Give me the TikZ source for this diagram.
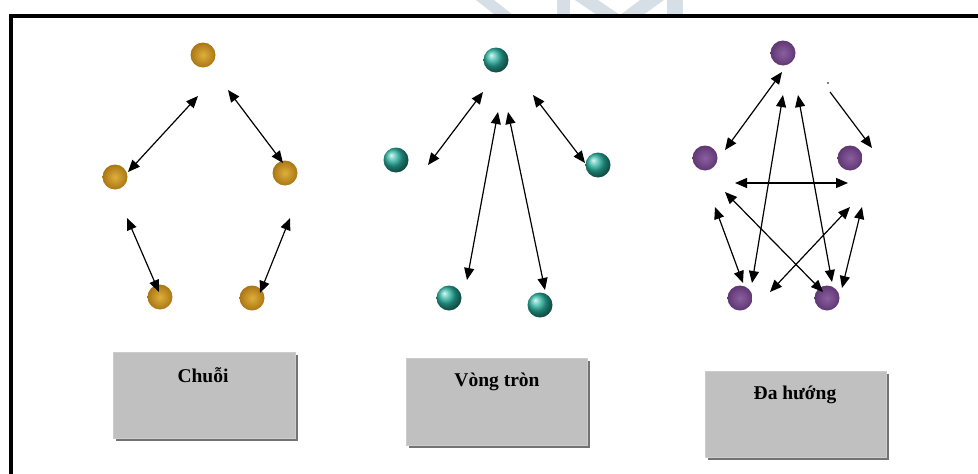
\documentclass[tikz,border=0pt]{standalone}
\usepackage{fontspec}
\setmainfont{Liberation Serif}
\usetikzlibrary{arrows.meta,shadows}
\definecolor{goldin}{RGB}{222,175,60}
\definecolor{goldout}{RGB}{170,118,20}
\definecolor{tealball}{RGB}{40,178,160}
\definecolor{purpin}{RGB}{140,95,160}
\definecolor{purpout}{RGB}{95,55,115}
\definecolor{boxgray}{RGB}{192,192,192}
\definecolor{wmark}{RGB}{214,222,230}
\begin{document}
\begin{tikzpicture}[x=1pt,y=-1pt,
  conn/.style={{Triangle[length=12pt,width=10pt]}-{Triangle[length=12pt,width=10pt]}, line width=1.2pt},
  oneway/.style={-{Triangle[length=12pt,width=10pt]}, line width=1.2pt},
  ball/.style={circle, minimum size=25pt, inner sep=0pt},
  goldball/.style={ball, shade, inner color=goldin, outer color=goldout},
  tealb/.style={ball, shading=ball, ball color=tealball},
  purpball/.style={ball, shade, inner color=purpin, outer color=purpout},
  graybox/.style={rectangle, fill=boxgray, draw=black!20, line width=0.6pt, inner sep=0pt,
    drop shadow={shadow xshift=2.5pt, shadow yshift=-2.5pt, fill=black!55, opacity=1}},
  lbl/.style={font=\fontsize{19.5}{23}\selectfont\bfseries, inner sep=0pt}
]
\useasboundingbox (0,0) rectangle (978,474);
\clip (0,0) rectangle (978,474);

% faint watermark
\fill[wmark] (476,0) -- (494,0) -- (513,15) -- (495,15) -- cycle;
\fill[wmark] (557,0) -- (570,0) -- (570,15) -- (557,15) -- cycle;
\fill[wmark] (575,0) -- (598,0) -- (620,15) -- (597,15) -- cycle;
\fill[wmark] (640,0) -- (664,0) -- (643,15) -- (620,15) -- cycle;
\fill[wmark] (667,0) -- (683,0) -- (683,15) -- (667,15) -- cycle;

% frame
\draw[line width=3.2pt] (11,480) -- (11,16) -- (990,16);

% ---------- Chuoi ----------
\node[goldball] (g1) at (203,55) {};
\node[goldball] (g2) at (115,177) {};
\node[goldball] (g3) at (285,173) {};
\node[goldball] (g4) at (160,297) {};
\node[goldball] (g5) at (252,298) {};
\coordinate (ga1) at (198,96);  \coordinate (gb1) at (128,172);
\coordinate (ga2) at (228,90);  \coordinate (gb2) at (283,163);
\coordinate (ga3) at (127,218); \coordinate (gb3) at (159,292);
\coordinate (ga4) at (290,218); \coordinate (gb4) at (260,293);
\draw[conn] (ga1) -- (gb1);
\draw[conn] (ga2) -- (gb2);
\draw[conn] (ga3) -- (gb3);
\draw[conn] (ga4) -- (gb4);

% ---------- Vong tron ----------
\node[tealb] (t1) at (496,60) {};
\node[tealb] (t2) at (396,160) {};
\node[tealb] (t3) at (598,165) {};
\node[tealb] (t4) at (449,298) {};
\node[tealb] (t5) at (540,305) {};
\coordinate (ta1) at (483,92);  \coordinate (tb1) at (428,165);
\coordinate (ta2) at (533,95);  \coordinate (tb2) at (585,163);
\coordinate (ta3) at (498,112); \coordinate (tb3) at (467,280);
\coordinate (ta4) at (508,112); \coordinate (tb4) at (545,290);
\draw[conn] (ta1) -- (tb1);
\draw[conn] (ta2) -- (tb2);
\draw[conn] (ta3) -- (tb3);
\draw[conn] (ta4) -- (tb4);

% ---------- Da huong ----------
\node[purpball] (p1) at (783,53) {};
\node[purpball] (p2) at (705,158) {};
\node[purpball] (p3) at (850,158) {};
\node[purpball] (p4) at (740,298) {};
\node[purpball] (p5) at (827,298) {};
\coordinate (pa1) at (782,72);  \coordinate (pb1) at (725,150);
\coordinate (pdot) at (828,83);
\coordinate (pa2) at (830,92);  \coordinate (pb2) at (872,148);
\coordinate (pa3) at (735,183); \coordinate (pb3) at (848,183);
\coordinate (pa4) at (783,95);  \coordinate (pb4) at (752,283);
\coordinate (pa5) at (798,95);  \coordinate (pb5) at (832,282);
\coordinate (pa6) at (715,207); \coordinate (pb6) at (743,283);
\coordinate (pa7) at (725,192); \coordinate (pb7) at (823,292);
\coordinate (pa8) at (850,207); \coordinate (pb8) at (770,292);
\coordinate (pa9) at (862,207); \coordinate (pb9) at (842,288);
\draw[conn] (pa1) -- (pb1);
\fill (pdot) circle (0.9pt);
\draw[oneway] (pa2) -- (pb2);
\draw[conn] (pa3) -- (pb3);
\draw[conn] (pa4) -- (pb4);
\draw[conn] (pa5) -- (pb5);
\draw[conn] (pa6) -- (pb6);
\draw[conn] (pa7) -- (pb7);
\draw[conn] (pa8) -- (pb8);
\draw[conn] (pa9) -- (pb9);

% ---------- boxes ----------
\node[graybox, minimum width=182pt, minimum height=86pt] (b1) at (204,395) {};
\node[graybox, minimum width=181pt, minimum height=87pt] (b2) at (496.5,401.5) {};
\node[graybox, minimum width=181pt, minimum height=86pt] (b3) at (795.5,414) {};
\node[lbl] (l1) at (203,375) {Chuỗi};
\node[lbl] (l2) at (497,382) {Vòng tròn};
\node[lbl] (l3) at (795,395) {Đa hướng};
\end{tikzpicture}
\end{document}
